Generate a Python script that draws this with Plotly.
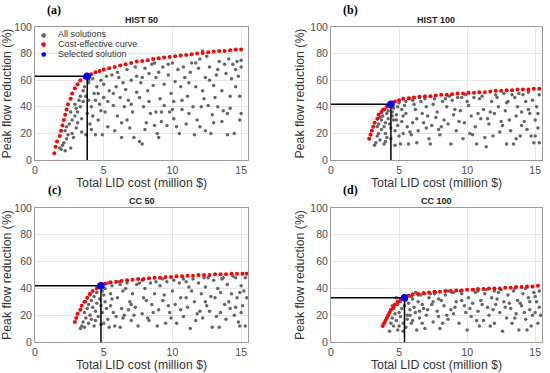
import plotly.graph_objects as go
from plotly.subplots import make_subplots

panel_titles = ["HIST 50", "HIST 100", "CC 50", "CC 100"]
panel_letters = ["(a)", "(b)", "(c)", "(d)"]
x_ticks = [0, 5, 10, 15]
y_ticks = [0, 20, 40, 60, 80, 100]

# ---- (a) HIST 50 ----
a_all = [(1.8,9),(1.9,8),(2.0,11),(2.1,13),(2.2,7),(2.3,16),(2.4,19),(2.2,22),(2.3,25),(2.6,9),(2.5,27),
         (2.7,30),(2.8,17),(2.9,33),(2.6,36),(3.0,39),(3.1,28),(3.2,45),(2.9,42),(3.3,48),(3.4,21),(3.5,52),(3.1,36),(3.4,31),(3.3,40),(3.5,44),(2.7,20),(3.0,24),
         (3.6,55),(3.7,19),(3.8,35),(3.9,45),(3.9,58),(4.0,27),(4.2,61),(4.3,50),(4.1,40),(4.4,19),(4.5,55),(3.7,48),(4.2,33),(4.4,45),(3.9,60),(4.1,23),
         (4.6,30),(4.7,42),(4.8,60),(4.9,19),(5.0,47),(5.1,36),(5.2,63),(5.3,25),(5.4,52),(4.8,37),(5.0,57),(5.3,44),(4.6,50),
         (5.6,64),(5.7,41),(5.8,22),(5.9,55),(6.0,33),(6.1,62),(6.2,47),(6.3,17),(6.4,58),(6.5,40),(5.7,50),(6.0,66),(6.3,28),
         (6.6,53),(6.7,68),(6.8,45),(6.9,24),(7.0,60),(7.1,36),(7.2,17),(7.3,70),(7.4,51),(6.7,30),(7.0,42),(7.4,63),
         (7.6,14),(7.7,58),(7.8,12),(7.9,40),(8.0,69),(8.1,28),(8.2,52),(8.3,65),(8.4,35),(7.6,47),(8.0,23),(8.5,72),(7.8,62),(8.3,44),
         (8.6,56),(8.7,26),(8.8,36),(8.9,20),(9.0,66),(9.0,17),(9.1,46),(9.2,36),(9.3,70),(9.4,57),(8.7,73),(9.2,29),(9.4,41),(8.8,62),
         (9.6,26),(9.7,64),(9.8,36),(9.9,50),(10.0,73),(10.0,38),(10.1,44),(10.2,59),(10.3,25),(10.4,68),(10.5,20),(9.7,72),(10.1,31),
         (10.6,55),(10.7,38),(10.8,70),(10.9,62),(11.0,27),(11.1,48),(11.2,35),(11.3,66),(11.4,73),(11.5,40),(10.7,45),(11.2,58),
         (11.6,19),(11.7,55),(11.8,30),(11.9,69),(12.0,76),(12.0,25),(12.1,40),(12.2,82),(12.3,46),(12.4,22),(12.4,62),(11.7,73),(12.2,52),(12.5,78),
         (12.6,41),(12.7,70),(12.8,20),(12.9,34),(13.0,56),(13.1,47),(13.2,64),(13.3,40),(13.4,74),(12.7,60),(13.0,28),(13.3,68),
         (13.6,29),(13.7,37),(13.8,72),(13.9,65),(14.0,19),(14.0,35),(14.1,76),(14.2,39),(14.3,61),(14.4,72),(13.6,52),(14.2,48),
         (14.5,20),(14.6,55),(14.7,74),(14.8,63),(14.9,30),(15.0,35),(15.0,70),(15.0,75),(14.6,68),(14.9,48)]
a_curve = [(1.4,5),(1.5,10),(1.6,14),(1.8,18),(1.9,22),(2.0,26),(2.1,30),(2.2,34),(2.3,38),(2.4,42),(2.6,46),(2.7,50),(2.9,54),(3.1,57),(3.3,60),(3.6,62),(4.1,64.5),(4.4,66),(4.7,67),(5.0,68),(5.4,69),(5.8,70),(6.2,71),(6.6,72),(7.0,73),(7.4,74),(7.8,74.5),(8.2,75),(8.6,76),(9.0,76.5),(9.4,77),(9.8,77.5),(10.2,78),(10.6,78.5),(11.0,79),(11.4,79.5),(11.8,80),(12.2,80.5),(12.6,81),(13.0,81.5),(13.4,82),(13.8,82),(14.2,82.5),(14.6,83),(15.0,83)]
a_selected = (3.8, 63)

# ---- (b) HIST 100 ----
b_all = [(3.2,11),(3.3,13),(3.4,18),(3.5,20),(3.6,15),(3.7,23),(3.5,27),(3.7,30),(3.8,33),(3.9,12),(3.9,25),(4.0,28),(4.0,20),(4.1,35),(4.2,37),(4.1,17),(4.2,31),(4.3,27),(4.4,24),(4.5,36),(4.6,39),(4.6,30),(4.7,22),(4.8,34),(4.9,40),(4.9,26),(5.0,18),(5.1,12),(5.2,38),(5.3,33),(5.2,29),(5.4,41),(5.5,44),(5.6,25),(5.7,12),(5.8,21),(5.9,19),(6.0,45),(6.1,42),(6.2,38),(6.3,31),(6.4,22),(6.5,47),(6.7,35),(6.8,28),(7.0,40),(7.1,33),(7.2,16),(7.3,12),(7.4,26),(7.6,46),(7.8,36),(7.9,23),(8.0,19),(8.2,44),(8.3,30),(8.5,40),(8.6,27),(8.8,12),(8.9,45),(9.0,34),(9.2,22),(9.3,47),(9.5,37),(9.7,16),(9.8,28),(10.0,44),(10.1,41),(10.3,33),(10.4,19),(10.6,25),(10.7,12),(10.9,46),(11.0,31),(11.2,38),(11.3,17),(11.4,10),(11.6,27),(11.8,44),(11.9,18),(12.0,35),(12.2,47),(12.3,40),(12.5,29),(12.6,26),(12.8,37),(12.9,12),(13.0,44),(13.2,22),(13.4,12),(13.5,47),(13.6,33),(13.7,40),(13.9,18),(14.0,26),(14.2,29),(14.3,44),(14.4,23),(14.6,35),(14.7,18),(14.8,45),(14.9,13),(15.0,30),(15.1,40),(15.2,24),(15.3,49),(15.3,13),(15.2,35),(6.9,46),(7.5,42),(8.7,48),(9.9,49),(11.1,48),(12.7,50),(13.8,50),(14.5,51),(5.5,35),(5.0,43),(6.6,44),(8.4,46),(9.6,47),(10.5,47),(12.1,49),(13.3,49),(14.1,49),(4.4,16),(3.8,38),(4.3,40),(5.8,46),(7.7,32),(9.4,29),(10.8,35),(11.7,36),(12.4,21),(13.1,30),(14.5,38),(15.0,18),(6.3,13),(8.1,25),(10.2,20),(11.5,31),(13.6,16),(7.0,24),(9.1,38),(12.9,43),(14.0,36),(5.3,20),(6.0,28),(4.8,30),(4.5,33),(3.6,32),(3.4,25),(4.0,14),(4.7,11)]
b_curve = [(2.8,16),(2.9,19),(3.0,22),(3.1,25),(3.2,28),(3.4,31),(3.5,34),(3.7,36),(3.9,38),(4.1,40),(4.7,44),(5.0,45),(5.3,46),(5.7,46.5),(6.1,47),(6.5,47.5),(6.9,48),(7.3,48),(7.7,48.5),(8.1,49),(8.5,49),(8.9,49.5),(9.3,50),(9.7,50),(10.1,50.5),(10.5,50.5),(10.9,51),(11.3,51),(11.7,51.5),(12.1,52),(12.5,52),(12.9,52.5),(13.3,52.5),(13.7,53),(14.1,53),(14.5,53),(14.9,53.5),(15.3,53.5)]
b_selected = (4.4, 42)

# ---- (c) CC 50 ----
c_all = [(3.3,10),(3.4,12),(3.5,15),(3.6,11),(3.7,18),(3.6,22),(3.8,25),(3.9,14),(3.9,28),(4.0,20),(4.1,31),(4.1,17),(4.2,26),(4.3,34),(4.3,12),(4.4,23),(4.5,29),(4.5,37),(4.6,19),(4.7,32),(4.8,27),(4.9,38),(4.9,22),(5.0,35),(5.1,40),(5.1,30),(5.2,25),(5.3,17),(5.4,11),(5.5,36),(5.6,42),(5.7,22),(5.8,12),(5.9,19),(6.0,33),(6.2,43),(6.3,25),(6.4,38),(6.5,20),(6.7,44),(6.9,30),(7.0,16),(7.1,36),(7.3,26),(7.5,12),(7.6,44),(7.8,21),(7.9,33),(8.0,40),(8.2,18),(8.4,44),(8.5,28),(8.7,36),(8.9,12),(9.0,24),(9.1,42),(9.3,31),(9.5,14),(9.6,45),(9.8,22),(10.0,38),(10.2,28),(10.3,14),(10.5,44),(10.6,33),(10.8,19),(11.0,45),(11.1,26),(11.3,10),(11.4,38),(11.6,30),(11.8,21),(11.9,44),(12.1,36),(12.2,18),(12.4,41),(12.5,27),(12.7,23),(12.9,11),(13.0,46),(13.1,33),(13.3,40),(13.4,11),(13.5,22),(13.6,47),(13.8,28),(13.9,17),(14.0,43),(14.2,25),(14.3,36),(14.5,20),(14.6,48),(14.7,33),(14.8,15),(14.9,12),(15.0,42),(15.1,27),(15.2,38),(15.3,48),(15.3,12),(15.4,33),(6.6,40),(7.4,43),(8.8,45),(10.1,46),(11.5,47),(12.6,48),(13.7,48),(14.4,49),(5.3,44),(6.1,45),(7.8,46),(9.3,47),(10.8,47),(12.3,48),(4.0,35),(4.6,41),(5.6,32),(6.8,24),(8.1,31),(9.4,35),(10.6,24),(11.7,16),(12.8,34),(14.1,30),(15.0,22),(5.0,14),(6.2,11),(7.0,28),(8.3,16),(9.7,27),(11.2,41),(12.0,23),(13.2,19),(14.6,26),(3.7,30),(4.4,16),(4.8,13),(5.5,27),(6.4,18),(7.2,20),(8.6,22),(9.9,18),(11.0,33),(12.4,30),(13.5,37),(14.9,37)]
c_curve = [(2.9,15),(3.0,18),(3.1,21),(3.3,24),(3.4,27),(3.6,30),(3.8,33),(4.0,36),(4.2,38),(4.5,40),(5.1,43.5),(5.5,44.5),(5.9,45),(6.3,45.5),(6.7,46),(7.1,46.5),(7.5,47),(7.9,47),(8.3,47.5),(8.7,48),(9.1,48),(9.5,48.5),(9.9,48.5),(10.3,49),(10.7,49),(11.1,49.5),(11.5,49.5),(11.9,50),(12.3,50),(12.7,50),(13.1,50.5),(13.5,50.5),(13.9,50.5),(14.3,51),(14.7,51),(15.1,51),(15.4,51)]
c_selected = (4.8, 42)

# ---- (d) CC 100 ----
d_all = [(4.3,8),(4.4,14),(4.5,18),(4.6,12),(4.7,21),(4.6,25),(4.8,16),(4.9,28),(4.9,9),(5.0,22),(5.1,19),(5.1,30),(5.2,25),(5.3,14),(5.4,27),(5.5,31),(5.6,20),(5.6,17),(5.7,29),(5.8,24),(5.9,14),(6.0,32),(6.1,26),(6.2,22),(6.3,9),(6.4,30),(6.5,18),(6.6,35),(6.7,14),(6.8,25),(6.9,10),(7.0,20),(7.2,33),(7.4,28),(7.5,15),(7.6,36),(7.8,23),(7.9,19),(8.0,10),(8.1,31),(8.3,27),(8.4,35),(8.6,17),(8.8,24),(8.9,37),(9.0,21),(9.2,30),(9.4,14),(9.6,36),(9.8,27),(10.0,9),(10.1,33),(10.3,19),(10.4,29),(10.6,37),(10.8,23),(10.9,12),(11.0,31),(11.2,16),(11.3,36),(11.5,26),(11.6,20),(11.8,33),(12.0,14),(12.1,28),(12.3,37),(12.4,22),(12.6,8),(12.7,30),(12.9,18),(13.0,35),(13.2,25),(13.3,14),(13.4,38),(13.6,21),(13.7,31),(13.8,9),(14.0,27),(14.1,36),(14.3,17),(14.4,9),(14.5,33),(14.6,24),(14.8,20),(14.9,37),(15.0,22),(15.1,30),(15.2,14),(15.3,38),(15.4,20),(5.9,34),(6.9,36),(7.7,37),(8.6,38),(9.5,38),(10.5,39),(11.4,39),(12.5,39),(13.5,40),(14.3,40),(5.2,33),(6.4,35),(7.3,36),(9.0,37),(10.8,38),(12.0,38),(5.5,11),(6.0,16),(6.7,28),(7.1,24),(8.2,14),(9.1,26),(9.9,22),(10.7,16),(11.9,24),(12.8,26),(13.9,29),(14.7,12),(15.0,34),(4.8,33),(5.3,8),(6.2,37),(7.9,32),(9.6,31),(11.1,28),(12.2,32),(13.5,18),(14.2,22),(15.3,26),(4.5,27),(5.0,12),(5.8,20),(6.5,23),(7.5,30),(8.5,20),(10.2,25),(11.7,12),(13.1,29),(14.6,30)]
d_curve = [(3.8,12),(3.9,14),(4.0,16),(4.1,18),(4.2,20),(4.3,22),(4.4,24),(4.6,26),(4.7,28),(4.9,30),(5.1,32),(5.7,34.5),(6.0,35.5),(6.4,36),(6.8,36.5),(7.2,37),(7.6,37.5),(8.0,37.5),(8.4,38),(8.8,38),(9.2,38.5),(9.6,38.5),(10.0,39),(10.4,39),(10.8,39.5),(11.2,39.5),(11.6,40),(12.0,40),(12.4,40),(12.8,40.5),(13.2,40.5),(13.6,41),(14.0,41),(14.4,41.5),(14.8,41.5),(15.2,42)]
d_selected = (5.4, 33)

panels = [(a_all, a_curve, a_selected), (b_all, b_curve, b_selected),
          (c_all, c_curve, c_selected), (d_all, d_curve, d_selected)]

fig = make_subplots(rows=2, cols=2)

GRAY = "#666666"
for i, (pts, curve, sel) in enumerate(panels):
    r, c = i // 2 + 1, i % 2 + 1
    fig.add_trace(go.Scatter(x=[p[0] for p in pts], y=[p[1] for p in pts], mode="markers",
                             marker=dict(color=GRAY, size=3.5), showlegend=False,
                             name="All solutions"), row=r, col=c)
    fig.add_trace(go.Scatter(x=[p[0] for p in curve], y=[p[1] for p in curve], mode="markers",
                             marker=dict(color="#ff0000", size=4), showlegend=False,
                             name="Cost-effective curve"), row=r, col=c)
    fig.add_trace(go.Scatter(x=[0, sel[0], sel[0]], y=[sel[1], sel[1], 0], mode="lines",
                             line=dict(color="black", width=1.5), showlegend=False,
                             hoverinfo="skip"), row=r, col=c)
    fig.add_trace(go.Scatter(x=[sel[0]], y=[sel[1]], mode="markers",
                             marker=dict(color="#0000ff", size=7.5), showlegend=False,
                             name="Selected solution"), row=r, col=c)

xdoms = [[35/550, 248/550], [331/550, 542/550]]
ydoms = [[1 - 160/373, 1 - 27/373], [1 - 342/373, 1 - 208/373]]

axfont = dict(family="Liberation Sans, Arial", size=10.5, color="#4d4d4d")
titlefont = dict(family="Liberation Sans, Arial", size=12.3, color="#333333")
for i in range(4):
    r, c = i // 2 + 1, i % 2 + 1
    fig.update_xaxes(row=r, col=c, domain=xdoms[c-1], range=[0, 15.5], tickvals=x_ticks,
                     showgrid=True, gridcolor="#e6e6e6", showline=True, mirror=True,
                     linecolor="#9a9a9a", linewidth=1, zeroline=False, ticks="", automargin=False,
                     tickfont=axfont, title=dict(text="Total LID cost (million $)", font=titlefont, standoff=2))
    fig.update_yaxes(row=r, col=c, domain=ydoms[r-1], range=[0, 100], tickvals=y_ticks,
                     showgrid=True, gridcolor="#e6e6e6", showline=True, mirror=True,
                     linecolor="#9a9a9a", linewidth=1, zeroline=False, ticks="", automargin=False,
                     tickfont=axfont, title=dict(text="Peak flow reduction (%)", font=titlefont, standoff=3))

annotations = []
title_pos = [(141.5, 20), (436.5, 20), (141.5, 201), (436.5, 201)]
letter_pos = [(54, 10), (350, 10), (54, 190), (350, 190)]
for i in range(4):
    tx, ty = title_pos[i]
    annotations.append(dict(x=tx/550, y=1 - ty/373, xref="paper", yref="paper", showarrow=False,
                            text="<b>%s</b>" % panel_titles[i], xanchor="center", yanchor="middle",
                            font=dict(family="Liberation Sans, Arial", size=9, color="#222")))
    lx, ly = letter_pos[i]
    annotations.append(dict(x=lx/550, y=1 - ly/373, xref="paper", yref="paper", showarrow=False,
                            text="<b>%s</b>" % panel_letters[i], xanchor="center", yanchor="middle",
                            font=dict(family="Liberation Serif, Times New Roman", size=12, color="black")))

legend_items = [("All solutions", GRAY, 34), ("Cost-effective curve", "#ff0000", 44),
                ("Selected solution", "#0000ff", 54)]
for label, col, yy in legend_items:
    annotations.append(dict(x=43/550, y=1 - yy/373, xref="paper", yref="paper", showarrow=False,
                            text="●", xanchor="center", yanchor="middle", borderpad=0,
                            font=dict(family="DejaVu Sans", size=6, color=col)))
    annotations.append(dict(x=57/550, y=1 - yy/373, xref="paper", yref="paper", showarrow=False,
                            text=label, xanchor="left", yanchor="middle", borderpad=0,
                            font=dict(family="Liberation Sans, Arial", size=9, color="#333")))

fig.update_layout(width=550, height=373, margin=dict(l=0, r=0, t=0, b=0),
                  plot_bgcolor="white", paper_bgcolor="white", showlegend=False,
                  annotations=annotations)

fig.write_html("out.html", config={"displayModeBar": False},
               post_script="document.body.style.margin='0';document.body.style.padding='0';document.body.style.overflow='hidden';")
